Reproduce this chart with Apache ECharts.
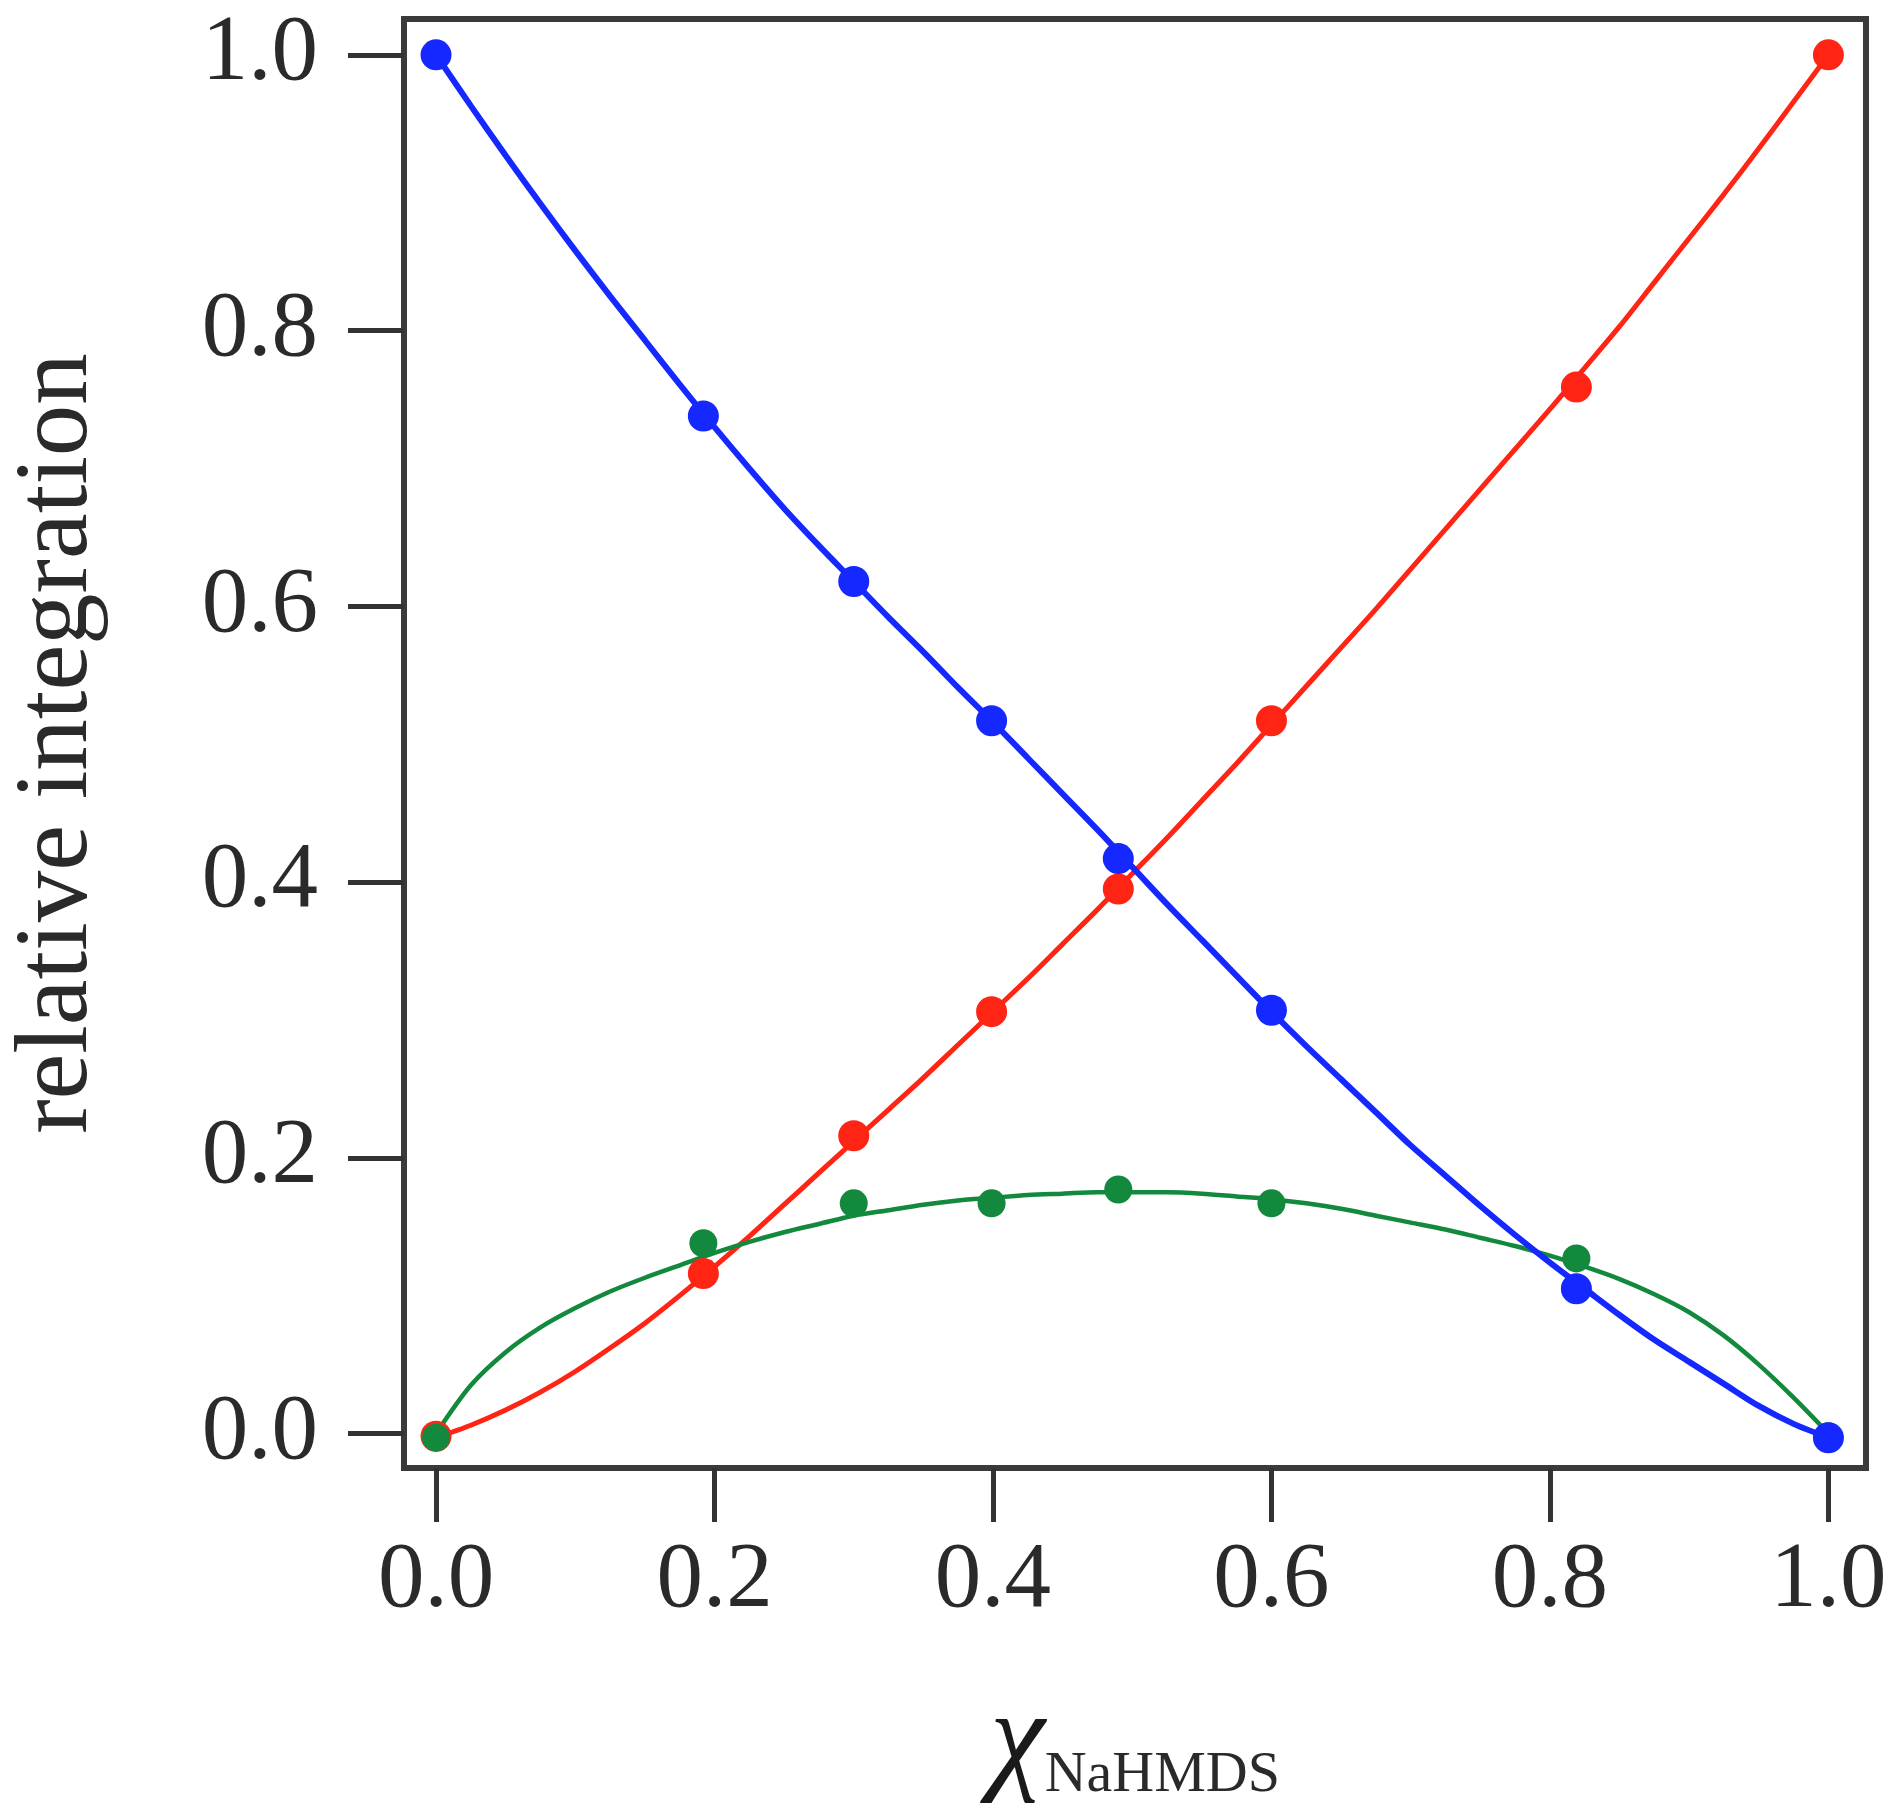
<!DOCTYPE html>
<html>
<head>
<meta charset="utf-8">
<script src="https://cdn.jsdelivr.net/npm/echarts@6/dist/echarts.min.js"></script>
<style>
  html, body { margin: 0; padding: 0; background: #fff; }
  #chart { width: 1887px; height: 1814px; }
</style>
</head>
<body>
<div id="chart"></div>
<script>
// measured points
var xPoints = [0, 0.192, 0.300, 0.399, 0.490, 0.600, 0.819, 1.0];
var bluePoints = [1.0, 0.738, 0.618, 0.517, 0.417, 0.307, 0.105, -0.003];
var redPoints = [-0.002, 0.116, 0.216, 0.306, 0.395, 0.517, 0.759, 1.0];
var greenPoints = [-0.003, 0.138, 0.167, 0.167, 0.177, 0.167, 0.127, -0.002];

// fitted curves, every 0.025
var fitX = [0, 0.025, 0.05, 0.075, 0.1, 0.125, 0.15, 0.175, 0.2, 0.225, 0.25, 0.275, 0.3, 0.325,
            0.35, 0.375, 0.4, 0.425, 0.45, 0.475, 0.5, 0.525, 0.55, 0.575, 0.6, 0.625, 0.65,
            0.675, 0.7, 0.725, 0.75, 0.775, 0.8, 0.825, 0.85, 0.875, 0.9, 0.925, 0.95, 0.975, 1.0];
var blueFit = [1.000, 0.963, 0.927, 0.892, 0.858, 0.825, 0.793, 0.761, 0.730, 0.700, 0.671, 0.644,
               0.618, 0.592, 0.567, 0.541, 0.516, 0.490, 0.464, 0.438, 0.411, 0.384, 0.358, 0.332,
               0.306, 0.281, 0.257, 0.233, 0.209, 0.187, 0.165, 0.144, 0.124, 0.105, 0.086, 0.068,
               0.052, 0.036, 0.020, 0.007, -0.003];
var redFit = [-0.003, 0.006, 0.017, 0.030, 0.045, 0.062, 0.080, 0.100, 0.121, 0.143, 0.166, 0.189,
              0.212, 0.235, 0.258, 0.282, 0.306, 0.330, 0.355, 0.380, 0.406, 0.432, 0.459, 0.486,
              0.514, 0.542, 0.570, 0.598, 0.627, 0.656, 0.685, 0.714, 0.743, 0.773, 0.803, 0.835,
              0.867, 0.899, 0.932, 0.966, 1.0];
var greenFit = [0, 0.035, 0.059, 0.077, 0.091, 0.103, 0.113, 0.122, 0.131, 0.139, 0.146, 0.152,
                0.158, 0.162, 0.166, 0.169, 0.171, 0.173, 0.174, 0.175, 0.175, 0.175, 0.174, 0.172,
                0.170, 0.167, 0.163, 0.158, 0.153, 0.148, 0.142, 0.136, 0.129, 0.121, 0.112, 0.101,
                0.088, 0.071, 0.050, 0.026, 0];

var ticks = [0, 0.2, 0.4, 0.6, 0.8, 1.0];

var FONT = 'Liberation Serif';
var BLUE = '#1428ff', RED = '#ff2414', GREEN = '#12893d';

function pairs(xs, ys) {
  return xs.map(function (x, i) { return [x, ys[i]]; });
}

function fitLine(ys, color, width) {
  return {
    type: 'line', data: pairs(fitX, ys), smooth: 0.3, showSymbol: false,
    lineStyle: { color: color, width: width }, z: 2, silent: true
  };
}

function dots(ys, color, size) {
  return {
    type: 'scatter', data: pairs(xPoints, ys), symbolSize: size,
    itemStyle: { color: color, opacity: 1 }, z: 3
  };
}

var tickStyle = { color: '#333', width: 5 };
function labels(margin) {
  return {
    fontFamily: FONT, fontSize: 93, color: '#2a2a2a', margin: margin,
    customValues: ticks,
    formatter: function (v) { return v.toFixed(1); }
  };
}

var chart = echarts.init(document.getElementById('chart'));
chart.setOption({
  animation: false,
  backgroundColor: '#fff',
  grid: {
    left: 404, top: 19, width: 1462, height: 1449,
    outerBoundsMode: 'none', containLabel: false,
    show: true, borderColor: '#3a3a3a', borderWidth: 6
  },
  xAxis: {
    type: 'value', min: -0.023, max: 1.027,
    axisLine: { show: false, onZero: false },
    splitLine: { show: false },
    axisTick: { show: true, length: 54, lineStyle: tickStyle, customValues: ticks },
    axisLabel: labels(67),
    name: '{chi|χ}{sub|NaHMDS}',
    nameLocation: 'middle',
    nameGap: 213,
    nameTextStyle: {
      rich: {
        chi: { fontFamily: FONT, fontSize: 124, fontStyle: 'italic', color: '#1a1a1a', verticalAlign: 'bottom' },
        sub: { fontFamily: FONT, fontSize: 58, color: '#2a2a2a', verticalAlign: 'bottom' }
      }
    }
  },
  yAxis: {
    type: 'value', min: -0.025, max: 1.026,
    axisLine: { show: false, onZero: false },
    splitLine: { show: false },
    axisTick: { show: true, length: 56, lineStyle: tickStyle, customValues: ticks },
    axisLabel: labels(86),
    name: 'relative integration',
    nameLocation: 'middle',
    nameGap: 294,
    nameTextStyle: { fontFamily: FONT, fontSize: 103, color: '#2a2a2a' }
  },
  series: [
    fitLine(redFit, RED, 5),
    fitLine(greenFit, GREEN, 4.5),
    fitLine(blueFit, BLUE, 6),
    dots(redPoints, RED, 31),
    dots(greenPoints, GREEN, 28),
    dots(bluePoints, BLUE, 31)
  ]
});
</script>
</body>
</html>
